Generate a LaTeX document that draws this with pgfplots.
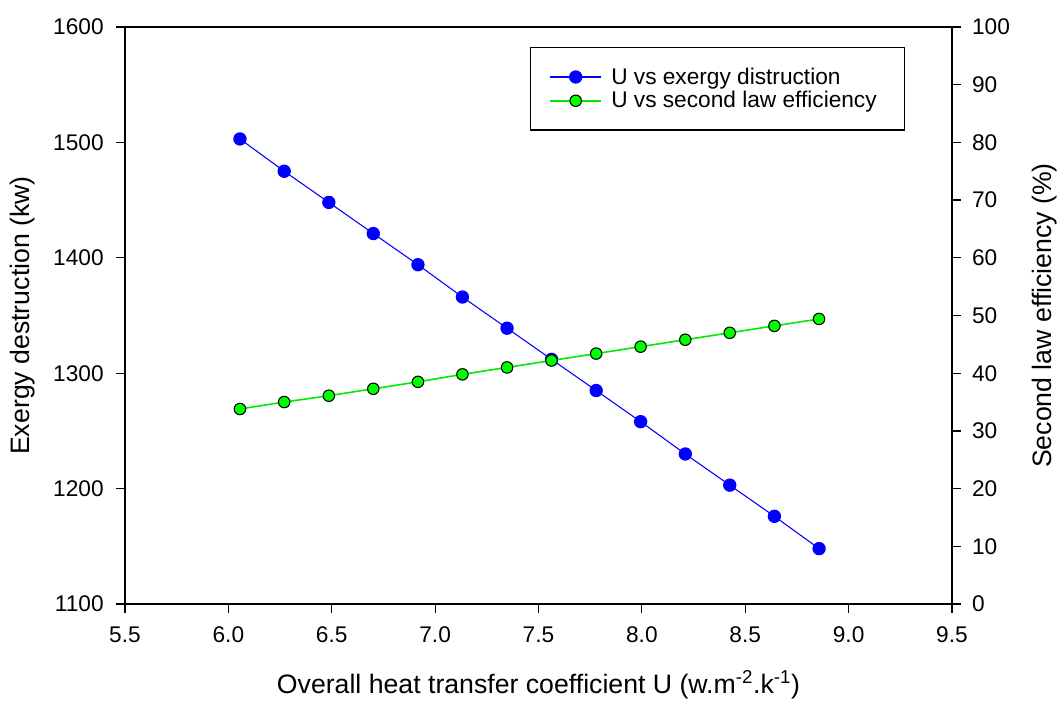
\documentclass[border=0pt]{standalone}
\usepackage{pgfplots}
\pgfplotsset{compat=1.18}
\usepackage{fontspec}
\setmainfont{Liberation Sans}
\begin{document}
\begin{tikzpicture}
\pgfplotsset{
  every axis/.append style={
    /pgf/number format/assume math mode=true,
    font=\fontsize{17}{20}\selectfont,
    scale only axis, width=620.25pt, height=432.75pt,
    at={(0,0)}, anchor=south west,
    xmin=5.5, xmax=9.5,
    tick align=outside, major tick length=6.5pt,
    tick style={black, line width=0.9pt},
    axis line style={black, line width=0.9pt},
    clip=false,
  },
  every axis label/.append style={font=\fontsize{20}{24}\selectfont},
}
\begin{axis}[
  ymin=1100, ymax=1600,
  xtick={5.5,6,...,9.5},
  xticklabels={5.5,6.0,6.5,7.0,7.5,8.0,8.5,9.0,9.5},
  ytick={1100,1200,...,1600},
  xtick pos=bottom, ytick pos=left,
  y tick label style={/pgf/number format/1000 sep={}},
  xticklabel style={yshift=-7pt},
  yticklabel style={xshift=-6pt},
  xlabel={Overall heat transfer coefficient U (w.m\textsuperscript{-2}.k\textsuperscript{-1})},
  ylabel={Exergy destruction (kw)},
  xlabel style={yshift=-14pt},
  ylabel style={yshift=7pt},
]
\addplot[blue, line width=0.8pt, mark=*, mark size=4.6pt, mark options={fill=blue, draw=blue}]
coordinates {
(6.056,1503) (6.270,1475) (6.486,1448) (6.701,1421) (6.917,1394) (7.132,1366) (7.348,1339)
(7.563,1312) (7.779,1285) (7.994,1258) (8.210,1230) (8.425,1203) (8.641,1176) (8.857,1148)
};
\end{axis}
\begin{axis}[
  ymin=0, ymax=100,
  axis x line=none,
  axis y line*=right,
  ytick={0,10,...,100},
  yticklabel style={xshift=5pt},
  ylabel={Second law efficiency (\%)},
  ylabel style={yshift=-10pt},
  legend style={at={(0.49,0.965)}, anchor=north west, draw=black, line width=0.9pt,
    inner xsep=14pt, inner ysep=13pt, font=\fontsize{17}{20}\selectfont,
    row sep=0pt, legend cell align=left,
    nodes={inner xsep=7pt}},
  legend image code/.code={\draw[mark repeat=2, mark phase=2] plot coordinates {(0cm,0cm) (0.67cm,0cm) (1.34cm,0cm)};},
]
\addlegendimage{blue, line width=0.8pt, mark=*, mark size=4.6pt, mark options={fill=blue, draw=blue}}
\addlegendentry{U vs exergy distruction}
\addplot[color={rgb,255:red,0;green,235;blue,0}, line width=1.2pt, mark=*, mark size=4.3pt, mark options={fill=green, draw=black, line width=0.8pt}]
coordinates {
(6.056,33.8) (6.270,35.0) (6.486,36.1) (6.701,37.3) (6.917,38.5) (7.132,39.8) (7.348,41.0)
(7.563,42.2) (7.779,43.4) (7.994,44.6) (8.210,45.8) (8.425,47.0) (8.641,48.2) (8.857,49.4)
};
\addlegendentry{U vs second law efficiency}
\end{axis}
\pgfresetboundingbox
\useasboundingbox (-93.75pt,-75pt) rectangle (701.25pt,453pt);
\end{tikzpicture}
\end{document}
